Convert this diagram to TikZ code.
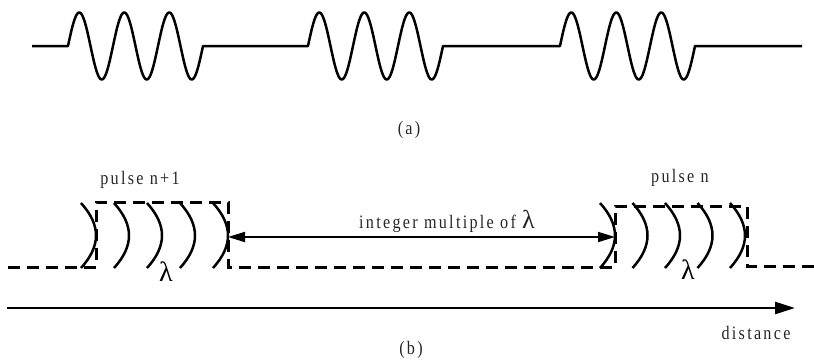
\documentclass[tikz,border=0pt]{standalone}
\usepackage{fontspec}
\setmainfont{Liberation Serif}
\newfontfamily\lblfont{Liberation Serif}[LetterSpace=12,FakeStretch=0.85]
\usetikzlibrary{arrows.meta}
\begin{document}
\begin{tikzpicture}[x=1pt,y=-1pt,
  wave/.style={line width=2.5pt, line join=round},
  dashline/.style={line width=3pt, dash pattern=on 12pt off 7pt},
  wavefront/.style={line width=2.5pt},
  lbl/.style={font=\lblfont\fontsize{19}{21}\selectfont, inner sep=0pt, text=black!85},
  lam/.style={font=\fontsize{28}{30}\selectfont, inner sep=0pt},
  dimline/.style={line width=1.8pt, {Triangle[length=17pt,width=10pt]}-{Triangle[length=17pt,width=10pt]}},
  axisline/.style={line width=2.6pt, -{Triangle[length=20pt,width=12pt]}}]
\useasboundingbox (0,0) rectangle (814,360);
% (a) pulsed wave train
\draw[wave] (32,46) -- (68,46)
  -- plot[domain=0:1080,samples=181] ({68+\x/8},{46-33.5*sin(\x)})
  -- (308,46)
  -- plot[domain=0:1080,samples=181] ({308+\x/8},{46-33.5*sin(\x)})
  -- (560,46)
  -- plot[domain=0:1080,samples=181] ({560+\x/8},{46-33.5*sin(\x)})
  -- (802,46);
\node[lbl] (capa) at (409,130) {(a)};
% (b) pulse envelope
\draw[dashline] (8,267) -- (96,267) -- (96,202) -- (228,202) -- (228,267)
  -- (615,267) -- (615,206) -- (747,206) -- (747,266) -- (814,266);
\foreach \xt in {81,114,147,180,213}
  \draw[wavefront] (\xt,203) .. controls (\xt+20,225) and (\xt+20,246) .. (\xt,268);
\foreach \xt in {600,632.5,665,697.5,730}
  \draw[wavefront] (\xt,203) .. controls (\xt+20,225) and (\xt+20,246) .. (\xt,268);
\node[lam] (lamL) at (166,272) {λ};
\node[lam] (lamR) at (688,270) {λ};
\node[lbl] (pn1) at (140,180) {pulse n+1};
\node[lbl] (pn) at (680,178) {pulse n};
\coordinate (lbR) at (228,237);
\coordinate (rbL) at (615,237);
\draw[dimline] (lbR) -- (rbL);
\node[lbl] (mult) at (447,221) {integer multiple of {\fontsize{26}{28}\selectfont\addfontfeature{LetterSpace=0,FakeStretch=1}λ}};
% distance axis
\coordinate (ax0) at (7,308);
\coordinate (ax1) at (795,308);
\draw[axisline] (ax0) -- (ax1);
\node[lbl] (dist) at (756,333) {distance};
\node[lbl] (capb) at (411,350) {(b)};
\end{tikzpicture}
\end{document}
